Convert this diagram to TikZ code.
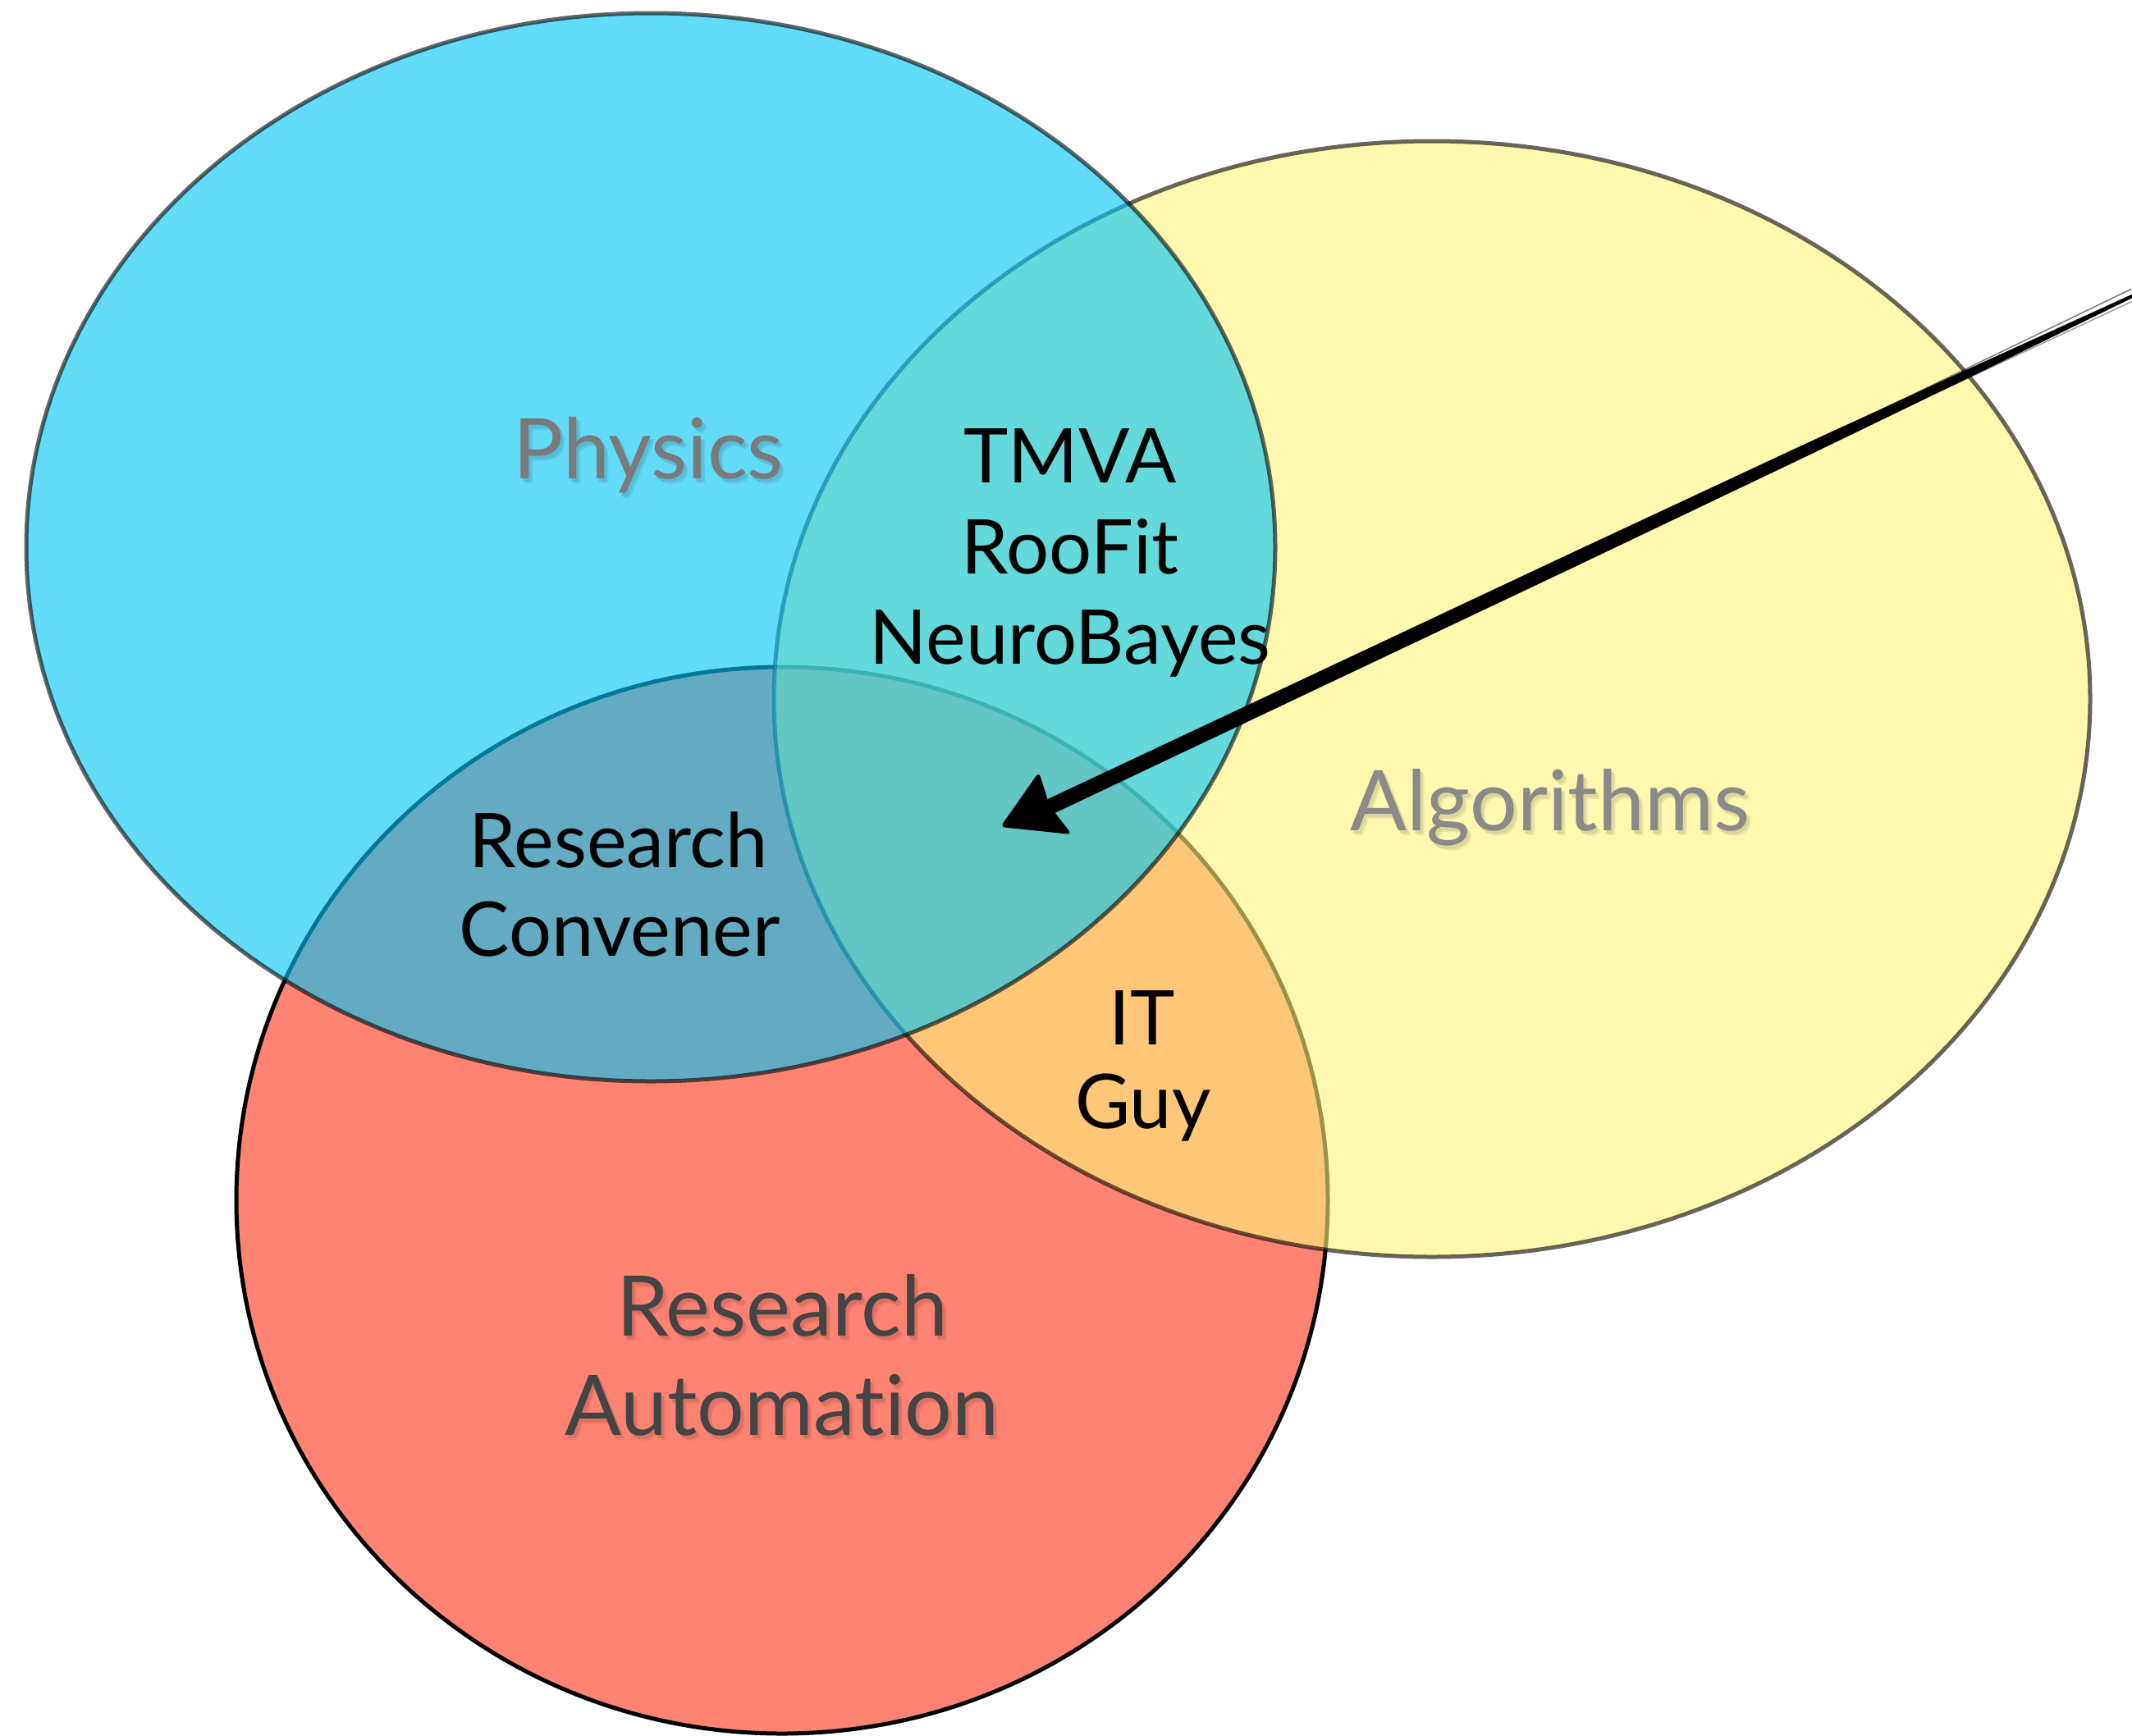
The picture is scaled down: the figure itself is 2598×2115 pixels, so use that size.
\documentclass[tikz,border=0pt]{standalone}
\usepackage{fontspec}
\setmainfont{Lato}[Ligatures={NoCommon,NoRare,NoContextual}]
\usetikzlibrary{calc}
\definecolor{redF}{RGB}{255,131,114}
\definecolor{yelF}{RGB}{255,245,123}
\definecolor{bluF}{RGB}{0,198,248}
\definecolor{physC}{RGB}{122,122,122}
\definecolor{algC}{RGB}{138,138,138}
\definecolor{autoC}{RGB}{68,68,68}
\definecolor{physSa}{RGB}{91,202,231}
\definecolor{physSb}{RGB}{84,188,215}
\definecolor{algSa}{RGB}{236,230,163}
\definecolor{algSb}{RGB}{220,215,152}
\definecolor{autSa}{RGB}{236,121,105}
\definecolor{autSb}{RGB}{220,113,98}
\newcommand\myshtext[3]{%
  \rlap{\kern5pt\raisebox{-6pt}{\textcolor{#1}{#3}}}%
  \rlap{\kern3pt\raisebox{-4pt}{\textcolor{#2}{#3}}}#3}
\begin{document}
\begin{tikzpicture}[x=1pt,y=-1pt,
  setline/.style={line width=5pt},
  biglabel/.style={font=\fontsize{102}{120}\selectfont, anchor=base, inner sep=0pt},
  smalllabel/.style={font=\fontsize{92}{110}\selectfont, anchor=base, inner sep=0pt, text=black}
]
\useasboundingbox (0,0) rectangle (2598,2115);
\fill[white] (0,0) rectangle (2598,2115);
% circles: red (bottom), yellow, blue (top)
\path[fill=redF, draw=black, setline] (953,1463) ellipse [x radius=665, y radius=650];
\path[fill=yelF, fill opacity=0.6, draw=black, draw opacity=0.6, setline] (1745,852) ellipse [x radius=802, y radius=680];
\path[fill=bluF, fill opacity=0.61, draw=black, draw opacity=0.6, setline] (793,667) ellipse [x radius=761, y radius=651];

% gray labels with soft shadow
\node[biglabel, text=physC] (phys) at (790,583) {\myshtext{physSa}{physSb}{Physics}};
\node[biglabel, text=algC] (alg) at (1889,1012) {\myshtext{algSa}{algSb}{Algorithms}};
\node[biglabel, text=autoC] (resA) at (953,1628) {\myshtext{autSa}{autSb}{Research}};
\node[biglabel, text=autoC] (autA) at (953,1749) {\myshtext{autSa}{autSb}{Automation}};

% black labels
\node[smalllabel] (tmva) at (1304,588) {TMVA};
\node[smalllabel] (roofit) at (1304,699) {RooFit};
\node[smalllabel] (neuro) at (1304,809) {NeuroBayes};
\node[smalllabel] (resC) at (754,1057) {Research};
\node[smalllabel] (conv) at (755,1165) {Convener};
\node[smalllabel] (it) at (1392,1273) {IT};
\node[smalllabel] (guy) at (1393,1375) {Guy};

% arrow
\coordinate (arrS) at (2600.4,359.9);
\coordinate (arrN) at (1280,983);
\coordinate (arrT) at (1219,1008);
\coordinate (barbA) at (1266,941);
\coordinate (barbB) at (1306,1017);
\fill[black]
  ($(arrN)+(4.05,8.59)$) --
  ($(arrN)!0.4795!(arrS)+(3.63,7.69)$) --
  ($(arrN)!0.6966!(arrS)+(3.07,6.51)$) --
  ($(arrN)!0.8479!(arrS)+(2.13,4.52)$) --
  ($(arrS)+(0.85,1.81)$) --
  ($(arrS)-(0.85,1.81)$) --
  ($(arrN)!0.8479!(arrS)-(2.13,4.52)$) --
  ($(arrN)!0.6966!(arrS)-(3.07,6.51)$) --
  ($(arrN)!0.4795!(arrS)-(3.63,7.69)$) --
  ($(arrN)-(4.05,8.59)$) -- cycle;
\draw[line width=1.6pt, black, draw opacity=0.5]
  ($(arrN)!0.72!(arrS)-(2,4)$) -- ($(arrS)-(3.5,7.5)$);
\draw[line width=1.4pt, black, draw opacity=0.4]
  ($(arrN)!0.75!(arrS)+(2,4)$) -- ($(arrS)+(2.6,5.2)$);
\fill[black, rounded corners=6pt] (arrT) -- (barbA) -- ($(arrN)+(-1,-1)$) -- (barbB) -- cycle;
\end{tikzpicture}
\end{document}
